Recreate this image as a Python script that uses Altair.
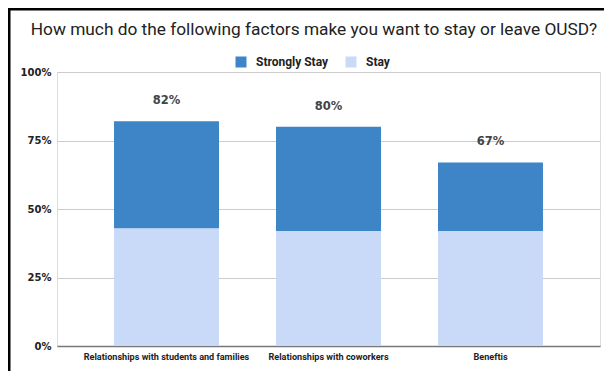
import altair as alt
import pandas as pd

categories = ["Relationships with students and families", "Relationships with coworkers", "Beneftis"]
stay = [0.43, 0.42, 0.42]
strongly_stay = [0.39, 0.38, 0.25]
series = ["Strongly Stay", "Stay"]
colors = ["#3d85c6", "#c9daf8"]
title_text = "How much do the following factors make you want to stay or leave OUSD?"

rows = []
for c, s, ss in zip(categories, stay, strongly_stay):
    rows.append({"category": c, "series": "Stay", "value": s, "ord": 0})
    rows.append({"category": c, "series": "Strongly Stay", "value": ss, "ord": 1})
df = pd.DataFrame(rows)

totals = pd.DataFrame({
    "category": categories,
    "total": [a + b for a, b in zip(stay, strongly_stay)],
})
totals["label"] = totals["total"].map(lambda v: f"{round(v * 100)}%")

x_enc = alt.X("category:N", sort=categories, title=None,
              scale=alt.Scale(paddingInner=0.352, paddingOuter=0.352),
              axis=alt.Axis(labelAngle=0, labelFont="Roboto", labelFontWeight="bold",
                            labelFontSize=9.1, labelColor="#222222", ticks=False,
                            labelPadding=6, domainColor="#777777", domainWidth=1.5,
                            grid=False))

bars = alt.Chart(df).mark_bar().encode(
    x=x_enc,
    y=alt.Y("value:Q", stack="zero", title=None,
            scale=alt.Scale(domain=[0, 1], nice=False),
            axis=alt.Axis(values=[0, 0.25, 0.5, 0.75, 1], format="%",
                          labelFont="DejaVu Sans", labelFontWeight="bold",
                          labelFontSize=10, labelColor="#222222", ticks=False,
                          domain=False, labelPadding=6, gridColor="#cccccc",
                          gridWidth=1)),
    color=alt.Color("series:N", sort=series,
                    scale=alt.Scale(domain=series, range=colors),
                    legend=alt.Legend(title=None, orient="none", legendX=178, legendY=-16,
                                      direction="horizontal", symbolType="square",
                                      symbolSize=121, symbolStrokeWidth=0,
                                      symbolOpacity=1, labelFont="Roboto",
                                      labelFontWeight="bold", labelFontSize=12,
                                      labelColor="#222222", labelOffset=9,
                                      columnPadding=16, padding=0)),
    order=alt.Order("ord:Q", sort="ascending"),
)

labels = alt.Chart(totals).mark_text(
    font="DejaVu Sans", fontWeight="bold", fontSize=11.5, color="#444444",
    baseline="middle", dy=-20,
).encode(
    x=alt.X("category:N", sort=categories),
    y=alt.Y("total:Q"),
    text="label:N",
)

title = alt.Chart(pd.DataFrame({"t": [title_text]})).mark_text(
    font="Roboto", fontSize=17.3, color="#222222", align="center", baseline="middle",
).encode(x=alt.value(257), y=alt.value(-42), text="t:N")

one = pd.DataFrame({"a": [0]})
top_border = alt.Chart(one).mark_rule(color="black", strokeWidth=3).encode(
    x=alt.value(-49), x2=alt.value(547), y=alt.value(-63))
left_border = alt.Chart(one).mark_rule(color="black", strokeWidth=3).encode(
    x=alt.value(-48), y=alt.value(-64), y2=alt.value(299))

chart = alt.layer(bars, labels, title, top_border, left_border).properties(
    width=543, height=274,
    autosize=alt.AutoSizeParams(type="none"),
    padding={"left": 49, "top": 64, "right": 4, "bottom": 25},
).configure_view(stroke=None).configure(background="transparent")

chart.save("out.html", embed_options={"renderer": "svg", "actions": False})
